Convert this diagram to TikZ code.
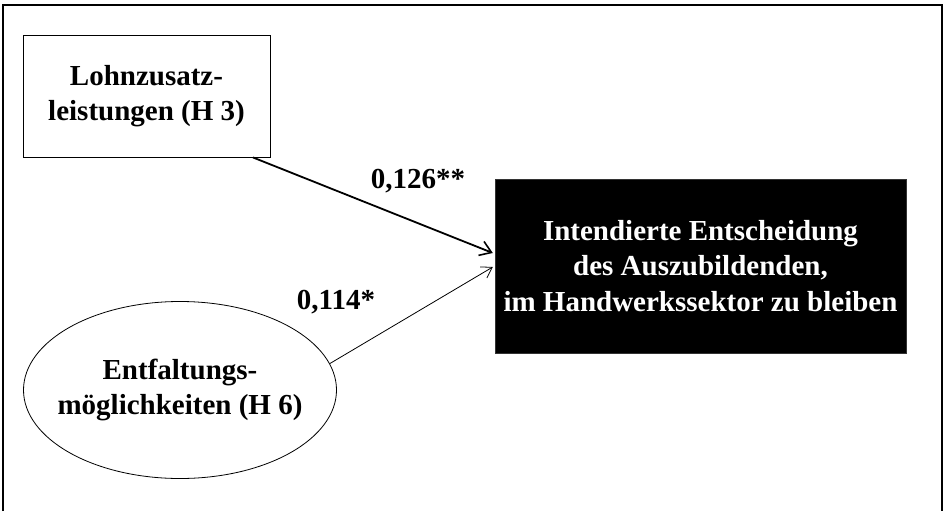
\documentclass[tikz,border=0pt]{standalone}
\usepackage{fontspec}
\setmainfont{Liberation Serif}
\usetikzlibrary{shapes.geometric,arrows.meta,calc}
\tikzset{
  txt/.style={font=\fontsize{29}{35.5}\selectfont\bfseries, align=center, inner sep=0pt},
  rectbox/.style={txt, draw, line width=0.8pt, minimum width=247pt, minimum height=122pt},
  ellbox/.style={draw, ellipse, inner sep=0pt, line width=0.8pt, minimum width=313pt, minimum height=177pt},
  blackbox/.style={txt, fill=black, draw=black!80, text=white, minimum width=411pt, minimum height=174pt},
  lbl/.style={font=\fontsize{29}{35.5}\selectfont\bfseries, inner sep=0pt},
  thickarrow/.style={line width=1.8pt, -{Straight Barb[length=11pt,width=15pt,line width=1.6pt]}},
  thinarrow/.style={line width=0.8pt, -{Straight Barb[length=10pt,width=13pt,line width=0.8pt]}},
  frame/.style={line width=2pt}
}
\begin{document}
\begin{tikzpicture}[x=1pt,y=-1pt]
\useasboundingbox (0,0) rectangle (944,511);
\draw[frame] (3,511) coordinate (fbl) -- (3,5) coordinate (ftl) -- (942,5) coordinate (ftr) -- (942,511) coordinate (fbr);
\node[rectbox] (lohn) at (146.5,96) {Lohnzusatz-\\leistungen (H 3)};
\node[ellbox] (ent) at (180,390) {};
\node[txt] (enttext) at (ent.center) {Entfaltungs-\\möglichkeiten (H 6)};
\node[blackbox] (box) at (700.5,266) {Intendierte Entscheidung\\des Auszubildenden,\\im Handwerkssektor zu bleiben};
\coordinate (e1) at ($(box.west)+(-2,-13)$);
\coordinate (e2) at ($(box.west)+(-2,1)$);
\draw[thickarrow] (lohn.-30) -- (e1);
\draw[thinarrow] (ent.10) -- (e2);
\node[lbl] (l1) at (418,181) {0,126**};
\node[lbl] (l2) at (336,302) {0,114*};
\end{tikzpicture}
\end{document}
